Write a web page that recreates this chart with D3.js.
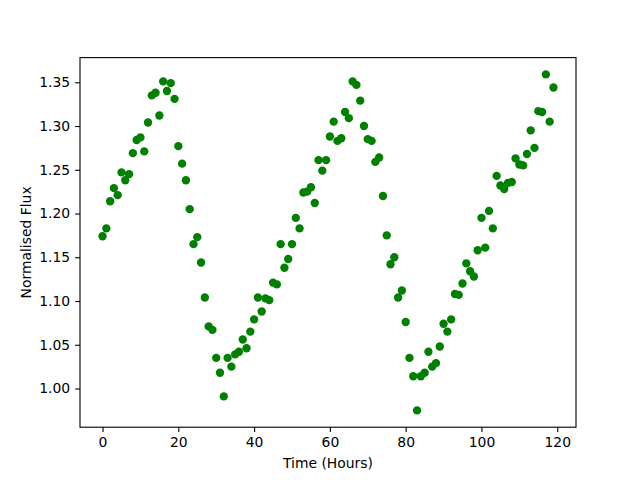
<!DOCTYPE html>
<html>
<head>
<meta charset="utf-8">
<script src="https://cdn.jsdelivr.net/npm/d3@7"></script>
<style>
  body { margin: 0; background: #fff; }
  svg text { font-family: "DejaVu Sans", sans-serif; font-size: 13.9px; fill: #000; }
</style>
</head>
<body>
<div id="chart"></div>
<script>
// hours 0..119, one reading each
const hours = d3.range(0, 120);
const flux = [
  1.174, 1.183, 1.214, 1.229, 1.221, 1.247, 1.238, 1.245, 1.269, 1.284,
  1.287, 1.271, 1.304, 1.335, 1.338, 1.312, 1.351, 1.340, 1.349, 1.331,
  1.277, 1.257, 1.238, 1.205, 1.165, 1.173, 1.144, 1.104, 1.071, 1.067,
  1.035, 1.018, 0.991, 1.035, 1.025, 1.039, 1.042, 1.056, 1.046, 1.065,
  1.079, 1.104, 1.088, 1.103, 1.101, 1.121, 1.119, 1.165, 1.138, 1.148,
  1.165, 1.195, 1.183, 1.224, 1.225, 1.230, 1.212, 1.261, 1.249, 1.261,
  1.288, 1.305, 1.283, 1.286, 1.316, 1.309, 1.351, 1.347, 1.329, 1.300,
  1.285, 1.283, 1.259, 1.264, 1.220, 1.175, 1.142, 1.150, 1.104, 1.112,
  1.076, 1.035, 1.014, 0.975, 1.014, 1.018, 1.042, 1.025, 1.029, 1.048,
  1.074, 1.065, 1.079, 1.108, 1.107, 1.120, 1.143, 1.134, 1.128, 1.158,
  1.195, 1.161, 1.203, 1.183, 1.243, 1.232, 1.228, 1.235, 1.236, 1.263,
  1.256, 1.255, 1.268, 1.295, 1.275, 1.317, 1.316, 1.359, 1.305, 1.344
];
const xTicks = [0, 20, 40, 60, 80, 100, 120];
const yTicks = [1.00, 1.05, 1.10, 1.15, 1.20, 1.25, 1.30, 1.35];

const width = 640, height = 480;
const margin = {top: 57.6, right: 64, bottom: 52.8, left: 80};
const iw = width - margin.left - margin.right;
const ih = height - margin.top - margin.bottom;

const svg = d3.select("#chart").append("svg")
  .attr("width", width)
  .attr("height", height);

const g = svg.append("g")
  .attr("transform", "translate(" + margin.left + "," + margin.top + ")");

// matplotlib-style 5% padding
const xmin = d3.min(hours), xmax = d3.max(hours);
const ymin = d3.min(flux), ymax = d3.max(flux);
const xpad = (xmax - xmin) * 0.05, ypad = (ymax - ymin) * 0.05;

const x = d3.scaleLinear().domain([xmin - xpad, xmax + xpad]).range([0, iw]);
const y = d3.scaleLinear().domain([ymin - ypad, ymax + ypad]).range([ih, 0]);

const xAxis = g.append("g")
  .attr("transform", "translate(0," + ih + ")")
  .call(d3.axisBottom(x).tickValues(xTicks).tickSize(4.9).tickPadding(4.9).tickFormat(d3.format("d")));

const yAxis = g.append("g")
  .call(d3.axisLeft(y).tickValues(yTicks).tickSize(4.9).tickPadding(4.9).tickFormat(d3.format(".2f")));

[xAxis, yAxis].forEach(a => {
  a.select(".domain").remove();
  a.selectAll("line").attr("stroke", "#000").attr("stroke-width", 1.1);
  a.selectAll("text").attr("font-family", "DejaVu Sans").attr("font-size", 13.9).attr("fill", "#000");
});

g.selectAll("circle")
  .data(hours)
  .enter()
  .append("circle")
  .attr("cx", (d, i) => x(hours[i]))
  .attr("cy", (d, i) => y(flux[i]))
  .attr("r", 4.17)
  .attr("fill", "#008000");

// frame
g.append("rect")
  .attr("width", iw)
  .attr("height", ih)
  .attr("fill", "none")
  .attr("stroke", "#000")
  .attr("stroke-width", 1.1);

svg.append("text")
  .attr("x", margin.left + iw / 2)
  .attr("y", 468)
  .attr("text-anchor", "middle")
  .text("Time (Hours)");

svg.append("text")
  .attr("transform", "translate(31," + (margin.top + ih / 2) + ") rotate(-90)")
  .attr("text-anchor", "middle")
  .text("Normalised Flux");
</script>
</body>
</html>
